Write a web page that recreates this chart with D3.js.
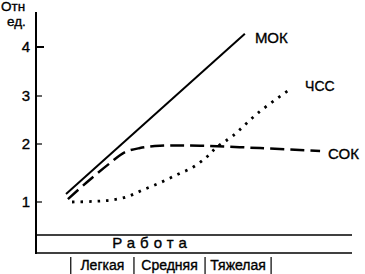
<!DOCTYPE html>
<html><head><meta charset="utf-8">
<script src="https://cdn.jsdelivr.net/npm/d3@7"></script>
<style>body{margin:0;background:#fff}svg{display:block}text{font-family:"Liberation Sans",Arial,sans-serif;fill:#000;stroke:#000;stroke-width:0.35px}</style>
</head><body>
<svg id="c" width="365" height="274"></svg>
<script>
// Data (work intensity, arbitrary units 0-100; relative units)
const yTicks = [1, 2, 3, 4];
const categories = ["Легкая", "Средняя", "Тяжелая"];
const categoryBounds = [11, 31, 53.5, 74.4];
const mokX = [9.5, 66.1];
const mokY = [1.14, 4.27];
const sokX = [10.1, 16.1, 23.4, 28.2, 32.9, 39.2, 51.9, 70.9, 89.9];
const sokY = [1.05, 1.34, 1.67, 1.86, 1.93, 1.97, 1.97, 1.93, 1.88];
const hrX = [11.4, 18.0, 23.4, 28.8, 33.9, 39.2, 44.6, 49.7, 54.1, 57.3, 62.3, 70.3, 80.4];
const hrY = [1.00, 1.01, 1.03, 1.09, 1.21, 1.33, 1.47, 1.60, 1.78, 1.95, 2.17, 2.65, 3.14];
const seriesNames = ["МОК", "ЧСС", "СОК"];
const axisTitle = ["Отн", "ед."];
const workLabel = "Работа";

const svg = d3.select("#c");
const x = d3.scaleLinear().domain([0, 100]).range([36, 352]);
const y = d3.scaleLinear().domain([1, 2, 3, 4]).range([202, 144, 96, 47]);

// axes lines
svg.append("line").attr("x1", 36).attr("x2", 36).attr("y1", 12).attr("y2", 254)
  .attr("stroke", "#000").attr("stroke-width", 2);
svg.append("line").attr("x1", 36).attr("x2", 352).attr("y1", 235).attr("y2", 235)
  .attr("stroke", "#000").attr("stroke-width", 1.5);
svg.append("line").attr("x1", 36).attr("x2", 352).attr("y1", 253).attr("y2", 253)
  .attr("stroke", "#000").attr("stroke-width", 1.5);

// y ticks
yTicks.forEach(t => {
  svg.append("line").attr("x1", 36).attr("x2", t === 4 ? 44 : 42)
    .attr("y1", y(t)).attr("y2", y(t)).attr("stroke", "#000").attr("stroke-width", t === 4 ? 2 : 1.2);
  svg.append("text").attr("x", 30).attr("y", y(t) + 5).attr("text-anchor", "end")
    .attr("font-size", 15).text(t);
});
svg.append("text").attr("x", 1).attr("y", 11).attr("font-size", 13.5).text(axisTitle[0]);
svg.append("text").attr("x", 7).attr("y", 26).attr("font-size", 13.5).text(axisTitle[1]);

// work label
svg.append("text").attr("x", 152).attr("y", 248).attr("text-anchor", "middle")
  .attr("font-size", 15).attr("letter-spacing", 5).text(workLabel);

// category ticks & labels
categoryBounds.forEach(b => {
  svg.append("line").attr("x1", x(b)).attr("x2", x(b)).attr("y1", 257).attr("y2", 274)
    .attr("stroke", "#000").attr("stroke-width", 1.2);
});
categories.forEach((c, i) => {
  svg.append("text").attr("x", (x(categoryBounds[i]) + x(categoryBounds[i + 1])) / 2)
    .attr("y", 270).attr("text-anchor", "middle").attr("font-size", 14).text(c);
});

const lineStraight = d3.line().x(d => x(d[0])).y(d => y(d[1]));
const lineCurve = d3.line().x(d => x(d[0])).y(d => y(d[1])).curve(d3.curveCatmullRom.alpha(0.5));

const mok = mokX.map((v, i) => [v, mokY[i]]);
const sok = sokX.map((v, i) => [v, sokY[i]]);
const hr = hrX.map((v, i) => [v, hrY[i]]);

svg.append("path").attr("d", lineStraight(mok)).attr("fill", "none")
  .attr("stroke", "#000").attr("stroke-width", 2);
svg.append("path").attr("d", lineCurve(sok)).attr("fill", "none")
  .attr("stroke", "#000").attr("stroke-width", 2.5).attr("stroke-dasharray", "14,6");
svg.append("path").attr("d", lineCurve(hr)).attr("fill", "none")
  .attr("stroke", "#000").attr("stroke-width", 2.8).attr("stroke-dasharray", "2.5,6");

// series labels
const last = s => s[s.length - 1];
svg.append("text").attr("x", x(last(mok)[0]) + 10).attr("y", y(last(mok)[1]) + 9)
  .attr("font-size", 15).text(seriesNames[0]);
svg.append("text").attr("x", x(last(hr)[0]) + 15).attr("y", y(last(hr)[1]) + 2)
  .attr("font-size", 14).text(seriesNames[1]);
svg.append("text").attr("x", x(last(sok)[0]) + 8).attr("y", y(last(sok)[1]) + 8)
  .attr("font-size", 15).text(seriesNames[2]);
</script>
</body></html>
